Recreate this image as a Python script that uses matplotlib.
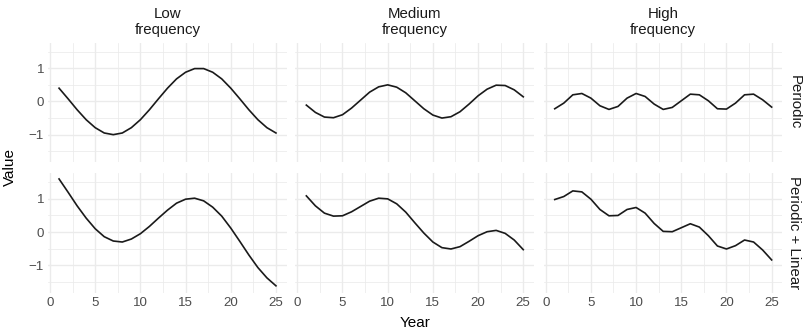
import matplotlib
matplotlib.use("Agg")
import matplotlib.pyplot as plt
from matplotlib.ticker import MultipleLocator

plt.rcParams["font.family"] = ["Liberation Sans", "DejaVu Sans"]

# ------------------------------------------------------------------ data
years = list(range(1, 26))

col_labels = ["Low\nfrequency", "Medium\nfrequency", "High\nfrequency"]
row_labels = ["Periodic", "Periodic + Linear"]

low_periodic = [0.40, 0.08, -0.25, -0.55, -0.79, -0.95, -1.00, -0.95, -0.79, -0.55,
                -0.25, 0.08, 0.40, 0.68, 0.88, 0.99, 0.99, 0.88, 0.68, 0.40,
                0.08, -0.25, -0.55, -0.79, -0.95]
med_periodic = [-0.11, -0.33, -0.47, -0.49, -0.40, -0.20, 0.04, 0.28, 0.44, 0.50,
                0.43, 0.26, 0.02, -0.22, -0.41, -0.50, -0.46, -0.31, -0.08, 0.17,
                0.37, 0.49, 0.48, 0.35, 0.14]
high_periodic = [-0.22, -0.05, 0.20, 0.24, 0.10, -0.13, -0.24, -0.15, 0.10, 0.24,
                 0.15, -0.08, -0.24, -0.18, 0.02, 0.22, 0.20, 0.02, -0.22, -0.23,
                 -0.05, 0.20, 0.22, 0.05, -0.17]

low_linear = [1.60, 1.20, 0.79, 0.42, 0.10, -0.14, -0.27, -0.30, -0.21, -0.05,
              0.17, 0.42, 0.66, 0.87, 0.99, 1.02, 0.94, 0.75, 0.48, 0.12,
              -0.28, -0.69, -1.07, -1.38, -1.62]
med_linear = [1.09, 0.79, 0.57, 0.48, 0.49, 0.61, 0.77, 0.93, 1.02, 1.00,
              0.85, 0.60, 0.28, -0.03, -0.30, -0.47, -0.51, -0.44, -0.28, -0.11,
              0.01, 0.05, -0.04, -0.24, -0.53]
high_linear = [0.98, 1.07, 1.24, 1.21, 0.99, 0.68, 0.49, 0.50, 0.68, 0.74,
               0.57, 0.26, 0.02, 0.01, 0.13, 0.25, 0.15, -0.11, -0.42, -0.51,
               -0.41, -0.24, -0.30, -0.54, -0.84]

series = [[low_periodic, med_periodic, high_periodic],
          [low_linear, med_linear, high_linear]]

# ------------------------------------------------------------------ layout
W, H = 804, 334
fig = plt.figure(figsize=(W / 100, H / 100), dpi=100)

col_left = [48.2, 295.5, 543.9]
panel_w = 238.6
row_top = [42.7, 173.3]
panel_h = 119.5

GRID = "#EBEBEB"
TXT = "#4D4D4D"

axes = []
for r in range(2):
    for c in range(3):
        x0, y0 = col_left[c], row_top[r]
        ax = fig.add_axes([x0 / W, 1 - (y0 + panel_h) / H, panel_w / W, panel_h / H])
        ax.plot(years, series[r][c], color="#1A1A1A", lw=1.2)
        ax.set_xlim(-0.2, 26.2)
        ax.set_ylim(-1.83, 1.77)
        ax.xaxis.set_major_locator(MultipleLocator(5))
        ax.xaxis.set_minor_locator(MultipleLocator(2.5))
        ax.yaxis.set_major_locator(MultipleLocator(1))
        ax.yaxis.set_minor_locator(MultipleLocator(0.5))
        ax.grid(which="major", color=GRID, lw=1.0)
        ax.grid(which="minor", color=GRID, lw=0.55)
        ax.set_axisbelow(True)
        for s in ax.spines.values():
            s.set_visible(False)
        ax.tick_params(which="both", length=0, labelsize=9.6, labelcolor=TXT, pad=3)
        if r == 0:
            ax.tick_params(labelbottom=False)
            ax.set_title(col_labels[c], fontsize=10.8, color="#1A1A1A", pad=6,
                         linespacing=1.2)
        if c > 0:
            ax.tick_params(labelleft=False)
        if c == 2:
            ax.text(1.05, 0.5, row_labels[r], transform=ax.transAxes, rotation=-90,
                    ha="center", va="center", fontsize=10.8, color="#1A1A1A")
        axes.append(ax)

fig.text(10 / W, 1 - 167 / H, "Value", rotation=90, ha="center", va="center",
         fontsize=11, color="black")
fig.text(415 / W, 1 - 323 / H, "Year", ha="center", va="center",
         fontsize=11, color="black")

fig.savefig("out.png", dpi=100, facecolor="white")
